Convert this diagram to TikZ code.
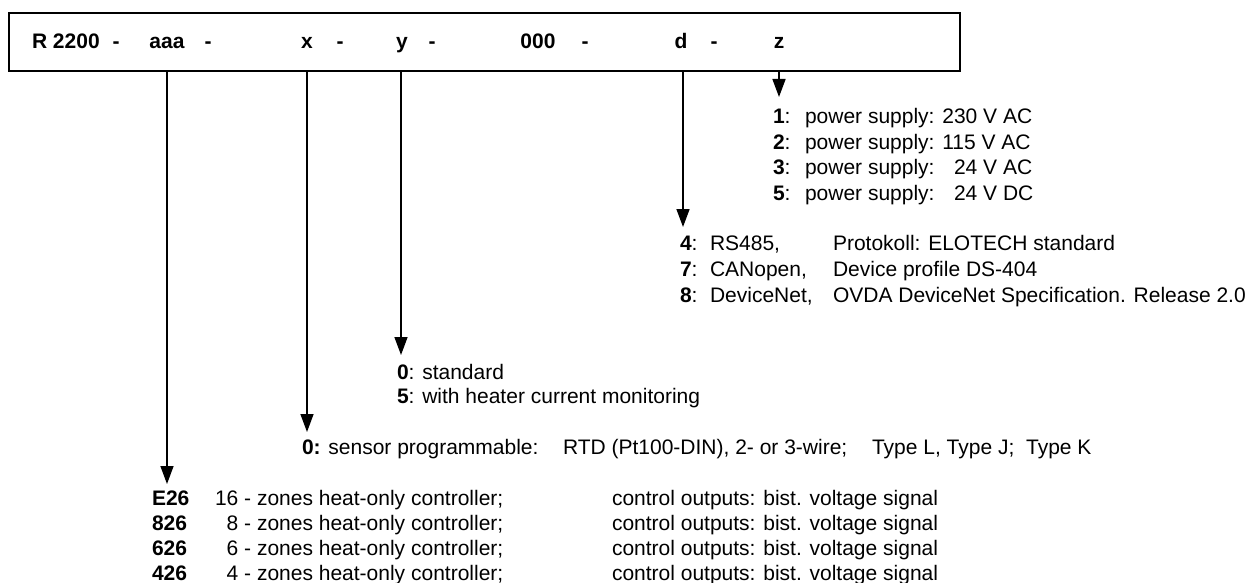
\documentclass[tikz,border=0pt]{standalone}
\usepackage{fontspec}
\setmainfont{Liberation Sans}
\usetikzlibrary{arrows.meta}
\begin{document}
\begin{tikzpicture}[x=1pt,y=-1pt,
  every node/.style={font=\fontsize{21}{25}\selectfont, inner sep=0pt, outer sep=0pt},
  txt/.style={anchor=base west},
  hd/.style={anchor=base, font=\fontsize{21}{25}\selectfont\bfseries},
  arr/.style={line width=1.5pt, -{Triangle[length=18pt,width=13pt]}},
  frame/.style={draw, line width=2pt}]
\useasboundingbox (0,0) rectangle (1252,583);
% header box
\node[frame, minimum width=951pt, minimum height=58pt, anchor=north west] (box) at (9,13) {};
\node[hd, anchor=base west] (hR) at (32,49) {R 2200};
\node[hd] (hd1) at (116,49) {-};
\node[hd] (ha) at (167,49) {aaa};
\node[hd] (hd2) at (208,49) {-};
\node[hd] (hx) at (307,49) {x};
\node[hd] (hd3) at (340,49) {-};
\node[hd] (hy) at (402,49) {y};
\node[hd] (hd4) at (432,49) {-};
\node[hd] (h0) at (538,49) {000};
\node[hd] (hd5) at (585,49) {-};
\node[hd] (hdd) at (681,49) {d};
\node[hd] (hd6) at (714,49) {-};
\node[hd] (hz) at (779,49) {z};
% arrow tips
\coordinate (ta) at (167,484);
\coordinate (tx) at (307,432);
\coordinate (ty) at (401,355);
\coordinate (td) at (683,227);
\coordinate (tz) at (779,97);
\draw[arr] (ta |- box.south) -- (ta);
\draw[arr] (tx |- box.south) -- (tx);
\draw[arr] (ty |- box.south) -- (ty);
\draw[arr] (td |- box.south) -- (td);
\draw[arr] (tz |- box.south) -- (tz);
% z options
\node[txt] (z1k) at (773,124) {\textbf{1}:};
\node[txt] (z1) at (805,124) {power supply: 230 V AC};
\node[txt] (z2k) at (773,149.3) {\textbf{2}:};
\node[txt] (z2) at (805,149.3) {power supply: 115 V AC};
\node[txt] (z3k) at (773,174.6) {\textbf{3}:};
\node[txt] (z3) at (805,174.6) {power supply: \phantom{2}24 V AC};
\node[txt] (z5k) at (773,200) {\textbf{5}:};
\node[txt] (z5) at (805,200) {power supply: \phantom{2}24 V DC};
% d options
\node[txt] (d4k) at (680,250) {\textbf{4}:};
\node[txt] (d4) at (710,250) {RS485,};
\node[txt] (d4b) at (833,250) {Protokoll: ELOTECH standard};
\node[txt] (d7k) at (680,276) {\textbf{7}:};
\node[txt] (d7) at (710,276) {CANopen,};
\node[txt] (d7b) at (833,276) {Device profile DS-404};
\node[txt] (d8k) at (680,302) {\textbf{8}:};
\node[txt] (d8) at (710,302) {DeviceNet,};
\node[txt] (d8b) at (833,302) {OVDA DeviceNet Specification. Release 2.0};
% y options
\node[txt] (y0) at (397,379) {\textbf{0}: standard};
\node[txt] (y5) at (397,403) {\textbf{5}: with heater current monitoring};
% x options
\node[txt] (x0) at (302,454) {\textbf{0:} sensor programmable:};
\node[txt] (x0b) at (563,454) {RTD (Pt100-DIN), 2- or 3-wire;};
\node[txt] (x0c) at (872,454) {Type L, Type J;\ \ Type K};
% aaa options
\node[txt] (a1k) at (152,505) {\textbf{E26}};
\node[txt] (a1) at (215,505) {16 - zones heat-only controller;};
\node[txt] (a1b) at (612,505) {control outputs: bist. voltage signal};
\node[txt] (a2k) at (152,530) {\textbf{826}};
\node[txt] (a2) at (215,530) {\phantom{1}8 - zones heat-only controller;};
\node[txt] (a2b) at (612,530) {control outputs: bist. voltage signal};
\node[txt] (a3k) at (152,555) {\textbf{626}};
\node[txt] (a3) at (215,555) {\phantom{1}6 - zones heat-only controller;};
\node[txt] (a3b) at (612,555) {control outputs: bist. voltage signal};
\node[txt] (a4k) at (152,580) {\textbf{426}};
\node[txt] (a4) at (215,580) {\phantom{1}4 - zones heat-only controller;};
\node[txt] (a4b) at (612,580) {control outputs: bist. voltage signal};
\end{tikzpicture}
\end{document}
